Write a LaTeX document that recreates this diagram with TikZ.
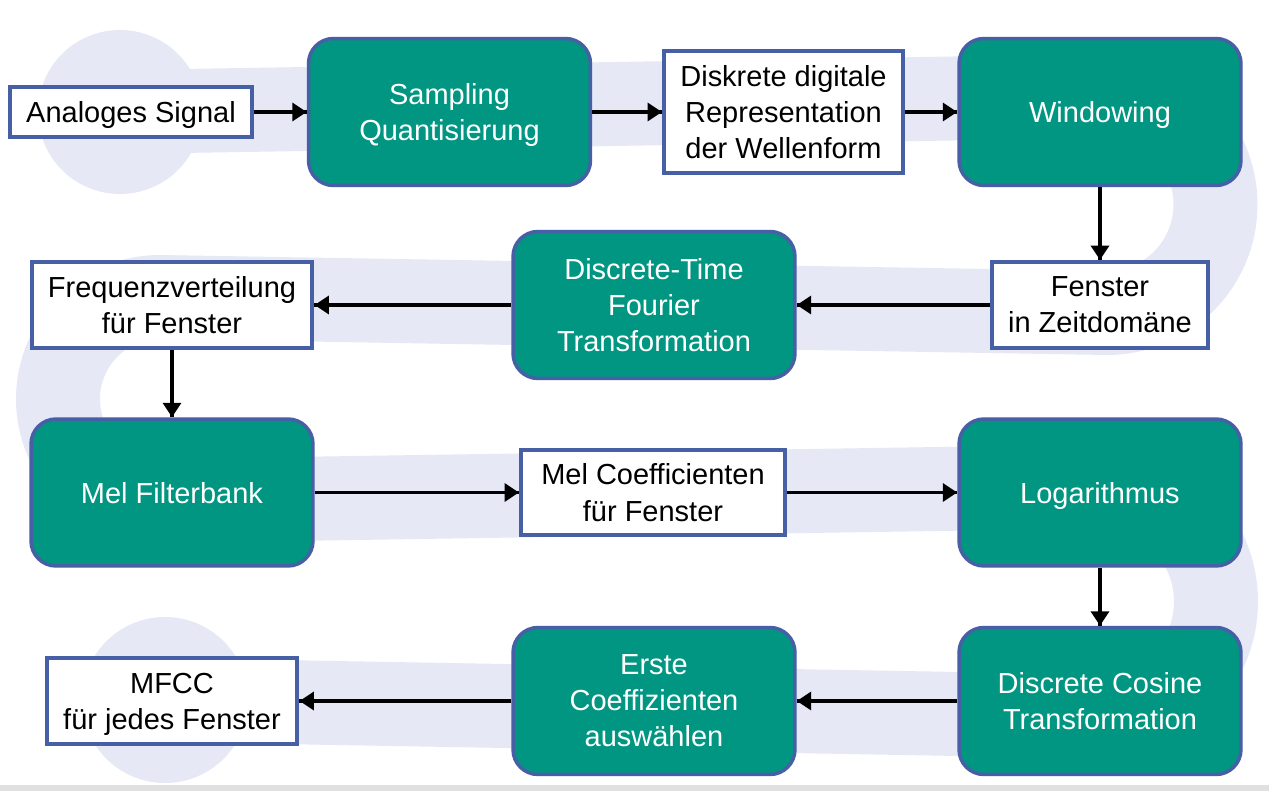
\documentclass[tikz,border=0pt]{standalone}
\usepackage{fontspec}
\setmainfont{Liberation Sans}
\usetikzlibrary{arrows.meta}
\usetikzlibrary{decorations.markings}
\tikzset{->/.style = {decoration={markings,
                                  mark=at position 1 with {\arrow{Triangle[length=0.29cm, width=0.36cm]}}},
                      postaction={decorate}}}
\definecolor{mblue}{RGB}{70, 95, 165}
\definecolor{mteal}{RGB}{0, 150, 130}
\definecolor{mband}{RGB}{230, 233, 245}
\tikzset{stage/.style = {draw=mblue, line width=0.07cm, fill=mteal, text=white, rounded corners=0.5cm,
                         minimum width=5.64cm, minimum height=2.94cm, align=center, text depth=0pt},
         data/.style = {draw=mblue, line width=0.08cm, fill=white, align=center, inner sep=0pt, text depth=0pt},
         flow/.style = {->, line width=0.07cm}}

\begin{document}
\begin{tikzpicture}[x=0.02cm, y=-0.02cm, font=\fontsize{16.5}{20.5}\selectfont]
      \fill [white] (0, 0) rectangle (1269, 791);
      \useasboundingbox (0, 0) rectangle (1269, 791);
      \fill [black!12] (0, 785) rectangle (1269, 791);

      \fill [mband] (120, 112) circle [radius=82];
      \fill [mband] (165, 700) circle [radius=83];
      \draw [mband, line width=1.68cm] (120, 112) -- (1107, 96) arc [start angle=-90, end angle=90, radius=108.5]
            -- (160, 297) arc [start angle=-90, end angle=-270, radius=102]
            -- (1101, 486.5) arc [start angle=-90, end angle=90, radius=115] -- (165, 700);

      \node [data, minimum width=4.84cm, minimum height=1.0cm] (analog) at (131, 112) {Analoges Signal};
      \node [stage] (sampling) at (449.5, 112) {Sampling\\Quantisierung};
      \node [data, minimum width=4.78cm, minimum height=2.44cm] (digital) at (783.5, 112) {Diskrete digitale\\Representation\\der Wellenform};
      \node [stage] (windowing) at (1100, 112) {Windowing};
      \node [data, minimum width=4.34cm, minimum height=1.72cm] (frame) at (1100, 305) {Fenster\\in Zeitdomäne};
      \node [stage] (dtft) at (654, 305) {Discrete-Time\\Fourier\\Transformation};
      \node [data, minimum width=5.62cm, minimum height=1.72cm] (spectrum) at (172, 305) {Frequenzverteilung\\für Fenster};
      \node [stage] (melbank) at (172, 492.5) {Mel Filterbank};
      \node [data, minimum width=5.28cm, minimum height=1.7cm] (melcoeff) at (653, 492.5) {Mel Coefficienten\\für Fenster};
      \node [stage] (logarithm) at (1100, 492.5) {Logarithmus};
      \node [stage] (dct) at (1100, 701) {Discrete Cosine\\Transformation};
      \node [stage] (select) at (654, 701) {Erste\\Coeffizienten\\auswählen};
      \node [data, minimum width=5.02cm, minimum height=1.72cm] (mfcc) at (172, 701) {MFCC\\für jedes Fenster};

      \draw [flow] (analog) -- (sampling);
      \draw [flow] (sampling) -- (digital);
      \draw [flow] (digital) -- (windowing);
      \draw [flow] (windowing) -- (frame);
      \draw [flow] (frame) -- (dtft);
      \draw [flow] (dtft) -- (spectrum);
      \draw [flow] (spectrum) -- (melbank);
      \draw [flow] (melbank) -- (melcoeff);
      \draw [flow] (melcoeff) -- (logarithm);
      \draw [flow] (logarithm) -- (dct);
      \draw [flow] (dct) -- (select);
      \draw [flow] (select) -- (mfcc);
\end{tikzpicture}
\end{document}
